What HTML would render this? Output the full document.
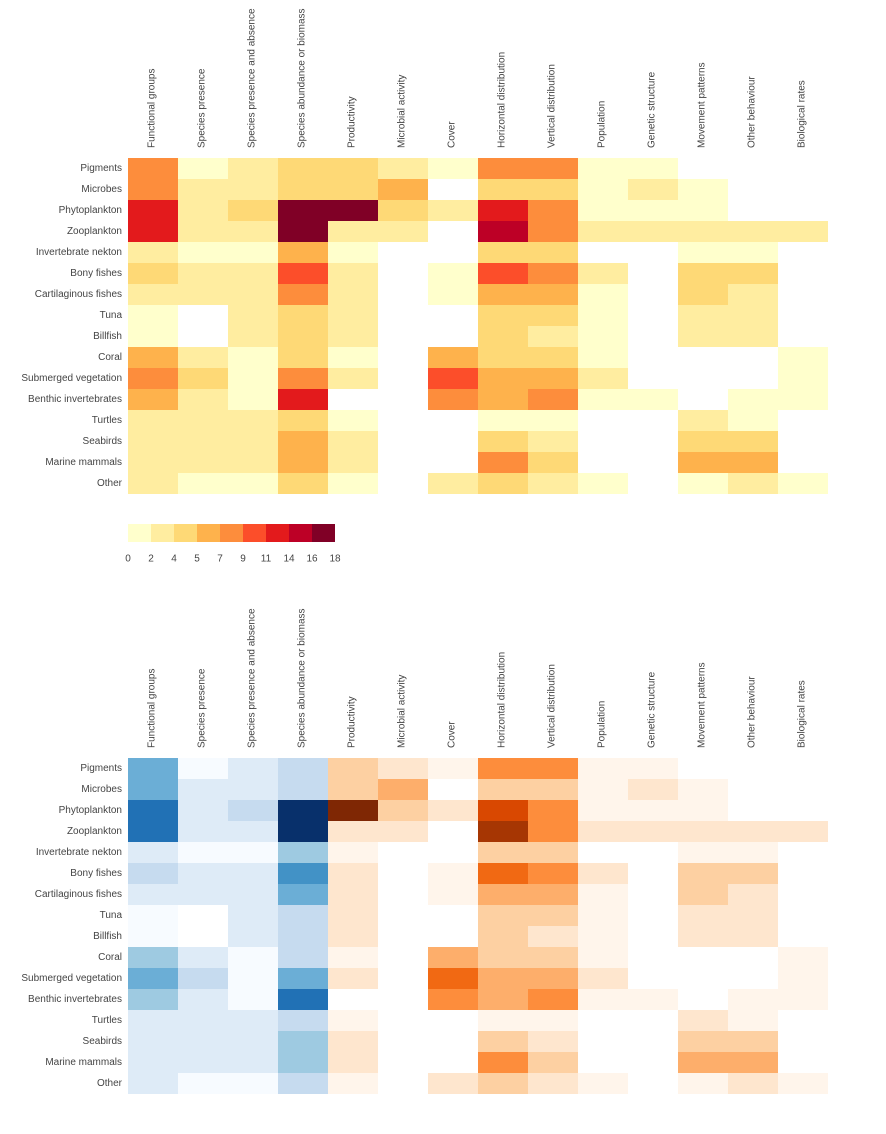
<!DOCTYPE html>
<html><head><meta charset="utf-8"><style>
html,body{margin:0;padding:0;background:#fff;}
svg{display:block;font-family:"Liberation Sans",sans-serif;}
</style></head><body>
<svg id="chart" width="886" height="1134" viewBox="0 0 886 1134" xmlns="http://www.w3.org/2000/svg"></svg>
<script>
const columns = ["Functional groups","Species presence","Species presence and absence","Species abundance or biomass","Productivity","Microbial activity","Cover","Horizontal distribution","Vertical distribution","Population","Genetic structure","Movement patterns","Other behaviour","Biological rates"];
const rows = ["Pigments","Microbes","Phytoplankton","Zooplankton","Invertebrate nekton","Bony fishes","Cartilaginous fishes","Tuna","Billfish","Coral","Submerged vegetation","Benthic invertebrates","Turtles","Seabirds","Marine mammals","Other"];
const N = null;
const values = [
 [9,1,3,5,5,3,1,9,9,1,1,N,N,N],
 [9,3,3,5,5,7,N,5,5,1,3,1,N,N],
 [13,3,5,17,17,5,3,13,9,1,1,1,N,N],
 [13,3,3,17,3,3,N,15,9,3,3,3,3,3],
 [3,1,1,7,1,N,N,5,5,N,N,1,1,N],
 [5,3,3,11,3,N,1,11,9,3,N,5,5,N],
 [3,3,3,9,3,N,1,7,7,1,N,5,3,N],
 [1,N,3,5,3,N,N,5,5,1,N,3,3,N],
 [1,N,3,5,3,N,N,5,3,1,N,3,3,N],
 [7,3,1,5,1,N,7,5,5,1,N,N,N,1],
 [9,5,1,9,3,N,11,7,7,3,N,N,N,1],
 [7,3,1,13,N,N,9,7,9,1,1,N,1,1],
 [3,3,3,5,1,N,N,1,1,N,N,3,1,N],
 [3,3,3,7,3,N,N,5,3,N,N,5,5,N],
 [3,3,3,7,3,N,N,9,5,N,N,7,7,N],
 [3,1,1,5,1,N,3,5,3,1,N,1,3,1]
];
const colorbarTicks = ["0","2","4","5","7","9","11","14","16","18"];
const YlOrRd = ["#ffffcc","#ffeda0","#fed976","#feb24c","#fd8d3c","#fc4e2a","#e31a1c","#bd0026","#800026"];
const Blues = ["#f7fbff","#deebf7","#c6dbef","#9ecae1","#6baed6","#4292c6","#2171b5","#08519c","#08306b"];
const Oranges = ["#fff5eb","#fee6ce","#fdd0a2","#fdae6b","#fd8d3c","#f16913","#d94801","#a63603","#7f2704"];

const svg = document.getElementById('chart');
const NS = "http://www.w3.org/2000/svg";
const X0 = 128, CW = 50, RH = 21;
function xPos(i){ return X0 + i*CW; }
function level(v){ return Math.max(0, Math.min(8, Math.floor(v/2))); }
function mk(tag, attrs, parent){ const e=document.createElementNS(NS,tag); for(const k in attrs) e.setAttribute(k,attrs[k]); (parent||svg).appendChild(e); return e; }

function drawHeatmap(top, headerBottom, colorFor, name){
  const g = mk('g',{});
  
  
  columns.forEach((c,i)=>{
    const t = mk('text',{x:0,y:0,'font-size':'10','fill':'#444','text-anchor':'start','dominant-baseline':'central',transform:`translate(${xPos(i)+CW/2-1},${headerBottom}) rotate(-90)`},g);
    t.textContent = c;
    
    
  });
  rows.forEach((r,j)=>{
    const y = top + j*RH;
    const t = mk('text',{x:122,y:y+RH/2,'font-size':'10','fill':'#444','text-anchor':'end','dominant-baseline':'central'},g);
    t.textContent = r;
    
    
    values[j].forEach((v,i)=>{
      if(v===null) return;
      const rc = mk('rect',{x:xPos(i),y:y,width:CW,height:RH,fill:colorFor(i,level(v))},g);
      
      
    });
  });
}
drawHeatmap(158, 148, (i,l)=>YlOrRd[l], 'top-heatmap');
drawHeatmap(758, 748, (i,l)=> i<4 ? Blues[l] : Oranges[l], 'bottom-heatmap');

const cb = mk('g',{});


YlOrRd.forEach((c,k)=>{
  const r = mk('rect',{x:128+k*23,y:524,width:23,height:18,fill:c},cb);
  
  
});
colorbarTicks.forEach((t,k)=>{
  const tx = mk('text',{x:128+k*23,y:559,'font-size':'10','fill':'#444','text-anchor':'middle','dominant-baseline':'central'},cb);
  tx.textContent = t;
  
  
});
</script>
</body></html>
